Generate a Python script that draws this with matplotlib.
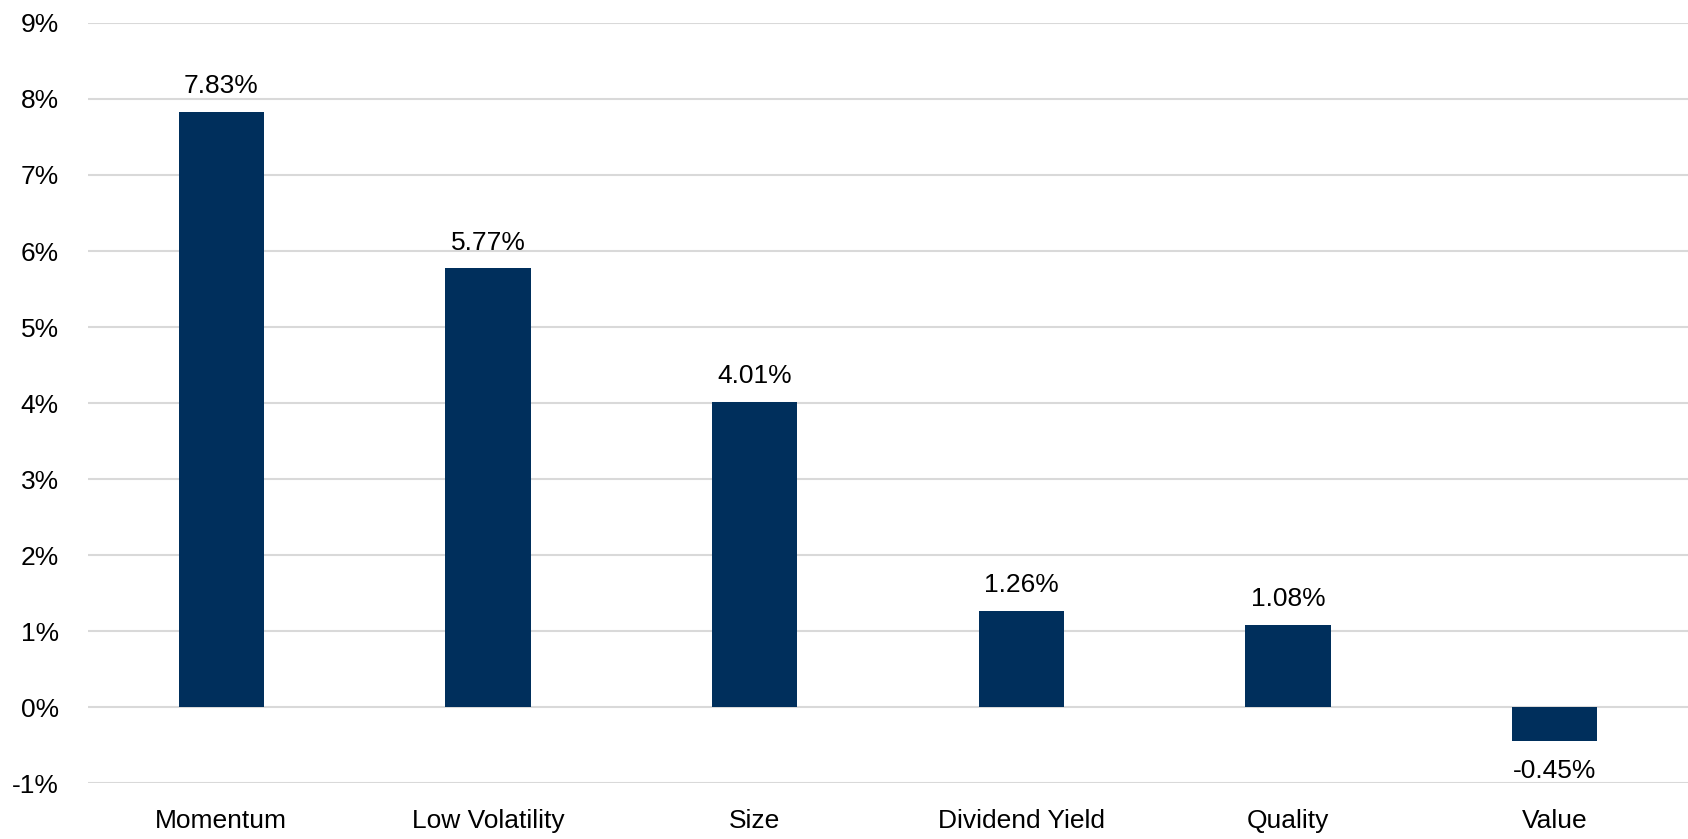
import numpy as np
import matplotlib.pyplot as plt

plt.rcParams['font.family'] = ['Liberation Sans', 'DejaVu Sans']

factors = ['Momentum', 'Low Volatility', 'Size', 'Dividend Yield', 'Quality', 'Value']
returns = [7.83, 5.77, 4.01, 1.26, 1.08, -0.45]
yticks = [-1, 0, 1, 2, 3, 4, 5, 6, 7, 8, 9]

barcolor = '#002F5C'
fsize = 19

fig = plt.figure(figsize=(16.88, 8.39), dpi=100)
ax = fig.add_axes([0.0521, 0.0667, 0.9479, 0.9059])

x = np.arange(len(factors))
bars = ax.bar(x, returns, width=0.32, color=barcolor, zorder=3)

for xi, v in zip(x, returns):
    if v >= 0:
        ax.annotate('%.2f%%' % v, (xi, v), xytext=(0, 10), textcoords='offset points',
                    ha='center', va='bottom', fontsize=fsize)
    else:
        ax.annotate('%.2f%%' % v, (xi, v), xytext=(0, -13), textcoords='offset points',
                    ha='center', va='top', fontsize=fsize)

ax.set_xlim(-0.5, len(factors) - 0.5)
ax.set_ylim(-1, 9)
ax.set_yticks(yticks)
ax.set_yticklabels(['%d%%' % t for t in yticks])
ax.set_xticks(x)
ax.set_xticklabels(factors)
ax.tick_params(axis='both', length=0, labelsize=fsize)
ax.tick_params(axis='y', pad=21)
ax.tick_params(axis='x', pad=19)
ax.yaxis.grid(True, color='#D9D9D9', linewidth=1.5, zorder=0)
ax.set_axisbelow(True)
for s in ax.spines.values():
    s.set_visible(False)

fig.savefig('out.png', dpi=100)
